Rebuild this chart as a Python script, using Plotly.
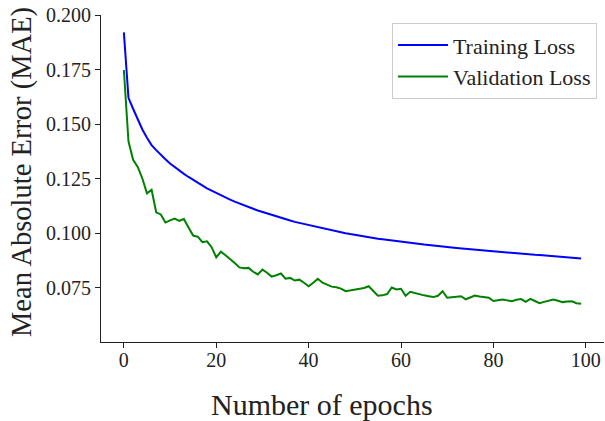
import plotly.graph_objects as go

epochs = list(range(100))

training_loss = [
    0.1920, 0.1620, 0.1570, 0.1520, 0.1475, 0.1437, 0.1403, 0.1380, 0.1358, 0.1338,
    0.1319, 0.1302, 0.1286, 0.1271, 0.1257, 0.1243, 0.1230, 0.1217, 0.1205, 0.1194,
    0.1183, 0.1173, 0.1163, 0.1153, 0.1144, 0.1135, 0.1127, 0.1119, 0.1111, 0.1103,
    0.1096, 0.1089, 0.1082, 0.1075, 0.1069, 0.1063, 0.1057, 0.1051, 0.1046, 0.1041,
    0.1036, 0.1031, 0.1026, 0.1021, 0.1016, 0.1011, 0.1007, 0.1003, 0.0999, 0.0995,
    0.0991, 0.0987, 0.0983, 0.0980, 0.0977, 0.0974, 0.0971, 0.0968, 0.0965, 0.0962,
    0.0959, 0.0957, 0.0955, 0.0952, 0.0950, 0.0947, 0.0945, 0.0942, 0.0940, 0.0938,
    0.0935, 0.0933, 0.0931, 0.0929, 0.0927, 0.0925, 0.0923, 0.0921, 0.0919, 0.0917,
    0.0916, 0.0914, 0.0912, 0.0911, 0.0909, 0.0907, 0.0905, 0.0904, 0.0902, 0.0900,
    0.0899, 0.0897, 0.0896, 0.0894, 0.0893, 0.0891, 0.0889, 0.0887, 0.0885, 0.0883,
]

validation_loss = [
    0.1748, 0.1420, 0.1336, 0.1303, 0.1250, 0.1182, 0.1198, 0.1095, 0.1085, 0.1048,
    0.1058, 0.1066, 0.1056, 0.1064, 0.1025, 0.0988, 0.0983, 0.0958, 0.0962, 0.0935,
    0.0888, 0.0914, 0.0898, 0.0882, 0.0862, 0.0842, 0.0838, 0.0840, 0.0822, 0.0810,
    0.0832, 0.0818, 0.0800, 0.0806, 0.0814, 0.0790, 0.0794, 0.0782, 0.0786, 0.0772,
    0.0756, 0.0772, 0.0790, 0.0772, 0.0762, 0.0754, 0.0751, 0.0745, 0.0733, 0.0737,
    0.0739, 0.0742, 0.0748, 0.0756, 0.0735, 0.0712, 0.0714, 0.0720, 0.0750, 0.0741,
    0.0744, 0.0712, 0.0730, 0.0724, 0.0718, 0.0714, 0.0710, 0.0706, 0.0712, 0.0733,
    0.0703, 0.0706, 0.0708, 0.0710, 0.0696, 0.0704, 0.0713, 0.0709, 0.0706, 0.0703,
    0.0688, 0.0692, 0.0695, 0.0691, 0.0687, 0.0694, 0.0697, 0.0684, 0.0698, 0.0688,
    0.0678, 0.0684, 0.0690, 0.0695, 0.0689, 0.0683, 0.0686, 0.0687, 0.0678, 0.0675,
]

x_tick_vals = [0, 20, 40, 60, 80, 100]
y_tick_vals = [0.075, 0.100, 0.125, 0.150, 0.175, 0.200]
y_tick_text = ["0.075", "0.100", "0.125", "0.150", "0.175", "0.200"]
x_title = "Number of epochs"
y_title = "Mean Absolute Error (MAE)"

FONT = "Liberation Serif"
INK = "#222222"

fig = go.Figure()
fig.add_trace(go.Scatter(x=epochs, y=training_loss, mode="lines", name="Training Loss",
                         line=dict(color="#0000ff", width=2)))
fig.add_trace(go.Scatter(x=epochs, y=validation_loss, mode="lines", name="Validation Loss",
                         line=dict(color="#008000", width=2)))

fig.update_layout(
    width=605, height=421,
    margin=dict(l=101, r=1, t=15, b=79),
    paper_bgcolor="white", plot_bgcolor="white",
    font=dict(family=FONT, size=20, color=INK),
    legend=dict(x=0.986, y=0.975, xanchor="right", yanchor="top",
                bgcolor="rgba(255,255,255,0.8)", bordercolor="#cccccc", borderwidth=1,
                itemwidth=50,
                font=dict(family=FONT, size=22, color=INK)),
    xaxis=dict(range=[-4.95, 103.95], tickvals=x_tick_vals, showgrid=False, zeroline=False,
               showline=True, linecolor=INK, linewidth=1,
               ticks="outside", ticklen=5, tickcolor=INK, ticklabelstandoff=-5),
    yaxis=dict(range=[0.05, 0.2], tickvals=y_tick_vals, ticktext=y_tick_text, showgrid=False,
               zeroline=False, showline=True, linecolor=INK, linewidth=1,
               ticks="outside", ticklen=5, tickcolor=INK),
    annotations=[
        dict(text=x_title, xref="paper", yref="paper", x=(322 - 101) / 503, y=(342 - 404) / 327,
             xanchor="center", yanchor="middle", showarrow=False,
             font=dict(family=FONT, size=30, color=INK)),
        dict(text=y_title, xref="paper", yref="paper", x=(22 - 101) / 503, y=(342 - 172) / 327,
             xanchor="center", yanchor="middle", showarrow=False, textangle=-90,
             font=dict(family=FONT, size=28.5, color=INK)),
    ],
)

fig.write_html("out.html")
